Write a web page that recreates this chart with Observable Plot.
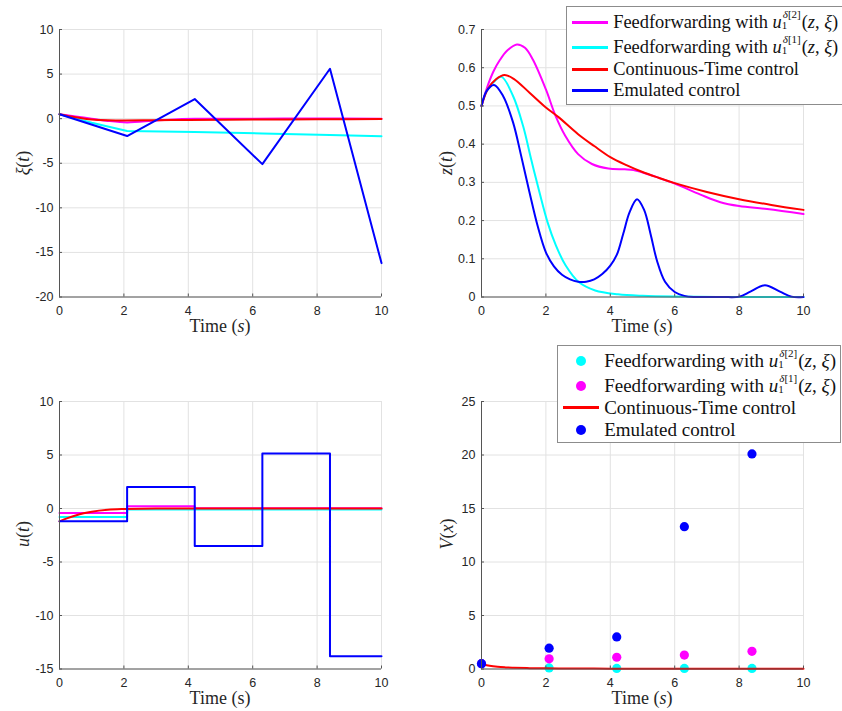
<!DOCTYPE html>
<html>
<head>
<meta charset="utf-8">
<script src="https://cdn.jsdelivr.net/npm/d3@7"></script>
<script src="https://cdn.jsdelivr.net/npm/@observablehq/plot@0.6"></script>
<style>
  body { margin: 0; background: #fff; }
  #root { position: relative; width: 842px; height: 711px; overflow: hidden; background: #fff; }
  .panel { position: absolute; }
  .lbl { position: absolute; font-family: "Liberation Serif", serif; font-size: 18px; color: #262626; white-space: nowrap; transform: translate(-50%, -50%); }
  .ylbl { transform: translate(-50%, -50%) rotate(-90deg); }
  .legend { position: absolute; background: #fff; border: 1px solid #8c8c8c; font-family: "Liberation Serif", serif; font-size: 19px; color: #111; }
  .row { position: absolute; left: 0; height: 24px; display: flex; align-items: center; white-space: nowrap; transform: translateY(-50%); }
  .swatch { display: inline-block; flex: none; }
  .ss { display: inline-block; position: relative; font-size: 11px; line-height: 11px; margin-right: 1px; }
  .sp { position: relative; top: -10px; padding-left: 1px; }
  .sb { position: absolute; left: 0; top: 1px; }
  i { font-style: italic; }
</style>
</head>
<body>
<div id="root"></div>
<script>
// ---------------- data ----------------
const xTicks = [0, 2, 4, 6, 8, 10];

// xi(t) panel
const xiTicks = [-20, -15, -10, -5, 0, 5, 10];
const xiEmuT = [0, 2.1, 4.2, 6.3, 8.4, 10];
const xiEmu = [0.5, -1.95, 2.2, -5.1, 5.6, -16.2];
const xiCyanT = [0, 1, 2.1, 4.2, 6.3, 8.4, 10];
const xiCyan = [0.5, -0.45, -1.38, -1.5, -1.65, -1.82, -1.98];
const xiMagT = [0, 0.5, 1, 1.5, 2.1, 3, 4.2, 6, 8, 10];
const xiMag = [0.5, 0.25, 0, -0.25, -0.42, -0.2, 0, 0, 0.02, 0];
const xiRedT = [0, 0.5, 1, 1.5, 2, 3, 4, 6, 8, 10];
const xiRed = [0.5, 0.15, -0.1, -0.18, -0.2, -0.17, -0.14, -0.1, -0.07, -0.05];

// z(t) panel
const zTicks = [0, 0.1, 0.2, 0.3, 0.4, 0.5, 0.6, 0.7];
const zMagT = [0, 0.16, 0.37, 0.57, 0.8, 1.1, 1.35, 1.59, 2.0, 2.3, 2.6, 3.0, 3.43, 3.94, 4.45, 4.72, 5.14, 5.47, 6.0, 6.8, 7.42, 8.0, 8.87, 10];
const zMag = [0.5, 0.545, 0.59, 0.62, 0.645, 0.661, 0.652, 0.622, 0.543, 0.474, 0.422, 0.374, 0.348, 0.336, 0.334, 0.332, 0.322, 0.313, 0.297, 0.268, 0.248, 0.238, 0.23, 0.217];
const zCyanT = [0, 0.16, 0.37, 0.62, 0.98, 1.29, 1.54, 1.8, 2.05, 2.31, 2.61, 3.02, 3.53, 4.24, 5, 6, 8, 10];
const zCyan = [0.5, 0.539, 0.562, 0.576, 0.526, 0.448, 0.361, 0.274, 0.196, 0.135, 0.083, 0.039, 0.017, 0.007, 0.003, 0.001, 0, 0];
const zRedT = [0, 0.2, 0.45, 0.72, 1.0, 1.5, 2.0, 2.4, 3.0, 3.5, 4.0, 4.5, 5.0, 5.5, 6.0, 7.0, 8.0, 9.0, 10];
const zRed = [0.5, 0.545, 0.57, 0.581, 0.571, 0.534, 0.496, 0.47, 0.426, 0.395, 0.366, 0.345, 0.327, 0.312, 0.298, 0.275, 0.256, 0.241, 0.228];
const zEmuT = [0, 0.16, 0.39, 0.67, 0.98, 1.23, 1.49, 1.74, 2.0, 2.25, 2.5, 2.75, 3.0, 3.25, 3.5, 3.75, 4.0, 4.2, 4.4, 4.6, 4.83, 5.05, 5.25, 5.45, 5.7, 6.0, 6.3, 6.6, 7.0, 7.5, 8.0, 8.35, 8.8, 9.27, 9.63, 10];
const zEmu = [0.5, 0.539, 0.555, 0.526, 0.457, 0.37, 0.274, 0.187, 0.117, 0.08, 0.058, 0.046, 0.04, 0.04, 0.046, 0.06, 0.082, 0.11, 0.165, 0.222, 0.256, 0.228, 0.165, 0.095, 0.04, 0.013, 0.003, 0, 0, 0, 0.001, 0.014, 0.031, 0.014, 0.001, 0];

// u(t) panel
const uTicks = [-15, -10, -5, 0, 5, 10];
const uEmuT = [0, 2.1, 4.2, 6.3, 8.4, 10];
const uEmu = [-1.2, 2.0, -3.5, 5.15, -13.8, -13.8];
const uMagT = [0, 2.1, 4.2, 10];
const uMag = [-0.42, 0.22, 0.02, 0.02];
const uCyanT = [0, 2.1, 10];
const uCyan = [-0.8, -0.1, -0.1];
const uRedT = [0, 0.25, 0.5, 0.75, 1, 1.5, 2, 3, 4, 6, 10];
const uRed = [-1.2, -0.9, -0.65, -0.45, -0.3, -0.12, -0.05, 0, 0, 0, 0];

// V(x) panel
const vTicks = [0, 5, 10, 15, 20, 25];
const vSampleT = [0, 2.1, 4.2, 6.3, 8.4];
const vEmu = [0.5, 1.95, 3.0, 13.3, 20.1];
const vMag = [0.5, 0.95, 1.1, 1.3, 1.65];
const vCyan = [0.5, 0.1, 0.05, 0.05, 0.05];
const vRedT = [0, 0.1, 0.25, 0.5, 0.75, 1, 1.5, 2, 3, 4, 6, 8, 10];
const vRed = [0.5, 0.4, 0.3, 0.2, 0.15, 0.12, 0.08, 0.06, 0.045, 0.035, 0.025, 0.02, 0.015];

// ---------------- styling ----------------
const MAG = "#ff00ff", CYA = "#00ffff", RED = "#ff0000", BLU = "#0000ff";
const GRID = "#e2e2e2", AXIS = "#555555";
const PW = 322, PH = 267.5, ML = 50, MR = 12, MT = 12, MB = 26;

const zip = (T, V) => T.map((t, i) => ({t, v: V[i]}));

function panel(left, top, yDomain, yTicks, marks) {
  const p = Plot.plot({
    width: PW + ML + MR,
    height: PH + MT + MB,
    marginLeft: ML, marginRight: MR, marginTop: MT, marginBottom: MB,
    style: {fontFamily: "Liberation Sans, Arial, sans-serif", fontSize: "12px", color: "#262626", background: "transparent", overflow: "visible"},
    x: {domain: [0, 10]},
    y: {domain: yDomain},
    marks: [
      Plot.gridX(xTicks, {stroke: GRID, strokeOpacity: 1}),
      Plot.gridY(yTicks, {stroke: GRID, strokeOpacity: 1}),
      ...marks,
      Plot.ruleX([0], {stroke: AXIS}),
      Plot.ruleY([yDomain[0]], {stroke: AXIS}),
      Plot.axisX({ticks: xTicks, tickFormat: d => String(d), tickSize: -3, tickPadding: 12, fontSize: 12.5, label: null, stroke: AXIS}),
      Plot.axisY({ticks: yTicks, tickFormat: d => String(d), tickSize: -3, tickPadding: 9, fontSize: 12.5, label: null, stroke: AXIS})
    ]
  });
  p.classList.add("panel");
  p.style.left = (left - ML) + "px";
  p.style.top = (top - MT) + "px";
  return p;
}

const line = (T, V, stroke, curve) => Plot.line(zip(T, V), {x: "t", y: "v", stroke, strokeWidth: 2, curve: curve || "linear"});
const dots = (T, V, fill) => Plot.dot(zip(T, V), {x: "t", y: "v", fill, r: 4.6});

const root = document.getElementById("root");

root.appendChild(panel(58.7, 28.7, [-20, 10], xiTicks, [
  line(xiMagT, xiMag, MAG, "monotone-x"),
  line(xiCyanT, xiCyan, CYA),
  line(xiRedT, xiRed, RED, "monotone-x"),
  line(xiEmuT, xiEmu, BLU)
]));

root.appendChild(panel(481.3, 28.7, [0, 0.7], zTicks, [
  line(zMagT, zMag, MAG, "catmull-rom"),
  line(zCyanT, zCyan, CYA, "catmull-rom"),
  line(zRedT, zRed, RED, "catmull-rom"),
  line(zEmuT, zEmu, BLU, "catmull-rom")
]));

root.appendChild(panel(58.7, 400.7, [-15, 10], uTicks, [
  line(uMagT, uMag, MAG, "step-after"),
  line(uCyanT, uCyan, CYA, "step-after"),
  line(uRedT, uRed, RED, "monotone-x"),
  line(uEmuT, uEmu, BLU, "step-after")
]));

root.appendChild(panel(481.3, 400.7, [0, 25], vTicks, [
  dots(vSampleT, vCyan, CYA),
  dots(vSampleT, vMag, MAG),
  line(vRedT, vRed, RED, "monotone-x"),
  dots(vSampleT, vEmu, BLU)
]));

// ---------------- axis labels ----------------
function label(html, x, y, rot) {
  const d = document.createElement("div");
  d.className = "lbl" + (rot ? " ylbl" : "");
  d.innerHTML = html;
  d.style.left = x + "px";
  d.style.top = y + "px";
  root.appendChild(d);
}
label("Time (<i>s</i>)", 220, 326);
label("Time (<i>s</i>)", 642, 326);
label("Time (s)", 220, 698);
label("Time (<i>s</i>)", 642, 698);
label("<i>ξ</i>(<i>t</i>)", 23, 163, true);
label("<i>z</i>(<i>t</i>)", 446, 163, true);
label("<i>u</i>(<i>t</i>)", 23, 534, true);
label("<i>V</i>(<i>x</i>)", 447, 534, true);

// ---------------- legends ----------------
const ff = k => `Feedforwarding with <i>u</i><span class="ss"><span class="sp"><i>δ</i>[${k}]</span><span class="sb">1</span></span>(<i>z</i>, <i>ξ</i>)`;

function legend(box, rows, fontSize) {
  const L = document.createElement("div");
  L.className = "legend";
  Object.assign(L.style, {left: box.x + "px", top: box.y + "px", width: box.w + "px", height: box.h + "px", fontSize: fontSize + "px"});
  rows.forEach(r => {
    const row = document.createElement("div");
    row.className = "row";
    row.style.top = (r.y - box.y) + "px";
    let sw;
    if (r.kind === "line") {
      sw = `<span class="swatch" style="width:${r.sw}px;height:3px;background:${r.color};margin-left:${r.swx}px;margin-right:${r.gap}px"></span>`;
    } else {
      const padL = r.swx + (r.sw - 10) / 2;
      sw = `<span class="swatch" style="width:10px;height:10px;border-radius:50%;background:${r.color};margin-left:${padL}px;margin-right:${(r.sw - 10) / 2 + r.gap}px"></span>`;
    }
    row.innerHTML = sw + `<span>${r.text}</span>`;
    L.appendChild(row);
  });
  root.appendChild(L);
}

legend({x: 565.7, y: 5.7, w: 290, h: 97.5}, [
  {kind: "line", color: MAG, sw: 36, swx: 5.5, gap: 5, y: 22, text: ff(2)},
  {kind: "line", color: CYA, sw: 36, swx: 5.5, gap: 5, y: 46.5, text: ff(1)},
  {kind: "line", color: RED, sw: 36, swx: 5.5, gap: 5, y: 68.5, text: "Continuous-Time control"},
  {kind: "line", color: BLU, sw: 36, swx: 5.5, gap: 5, y: 90, text: "Emulated control"}
], 18.4);

legend({x: 556.7, y: 344.7, w: 282, h: 96.5}, [
  {kind: "dot", color: CYA, sw: 36, swx: 5.5, gap: 5, y: 360.5, text: ff(2)},
  {kind: "dot", color: MAG, sw: 36, swx: 5.5, gap: 5, y: 385, text: ff(1)},
  {kind: "line", color: RED, sw: 36, swx: 5.5, gap: 5, y: 407, text: "Continuous-Time control"},
  {kind: "dot", color: BLU, sw: 36, swx: 5.5, gap: 5, y: 429, text: "Emulated control"}
], 19);
</script>
</body>
</html>
